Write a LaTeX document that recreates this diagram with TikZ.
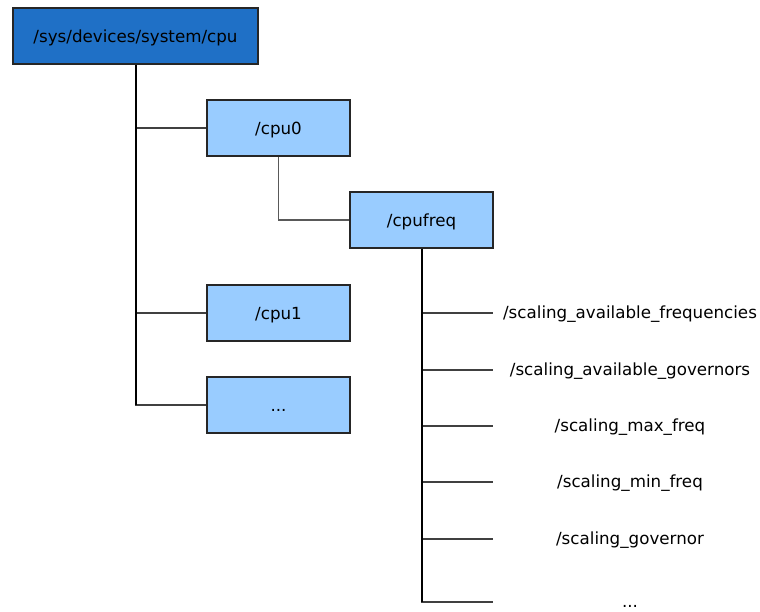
\documentclass[tikz,border=0pt]{standalone}
\usepackage{fontspec}
\setmainfont{DejaVu Sans}
\begin{document}
\begin{tikzpicture}[x=1pt,y=-1pt,
  every node/.style={font=\fontsize{16.7}{20}\selectfont, text=black},
  rootbox/.style={draw=black!85, line width=1.2pt, fill=rootblue, minimum width=245pt, minimum height=56pt, inner sep=0pt, text depth=0pt, text height=13pt},
  dirbox/.style={draw=black!85, line width=1.2pt, fill=dirblue, minimum width=143pt, minimum height=56pt, inner sep=0pt, text depth=0pt, text height=13pt},
  leaf/.style={inner sep=0pt},
  trunk/.style={draw=black, line width=2pt},
  branch/.style={draw=black!75, line width=1.2pt}]
\definecolor{rootblue}{HTML}{1F70C6}
\definecolor{dirblue}{HTML}{99CCFF}
\useasboundingbox (0,0) rectangle (760,612);

% directory boxes
\node[rootbox] (root) at (135.5,36) {/sys/devices/system/cpu};
\node[dirbox] (cpu0) at (278.5,128) {/cpu0};
\node[dirbox] (cpufreq) at (421.5,220) {/cpufreq};
\node[dirbox] (cpu1) at (278.5,313) {/cpu1};
\node[dirbox] (more) at (278.5,405) {...};

% cpufreq entries
\node[leaf] (f1) at (630,314.5) {/scaling\_available\_frequencies};
\node[leaf] (f2) at (630,371.5) {/scaling\_available\_governors};
\node[leaf] (f3) at (630,427.5) {/scaling\_max\_freq};
\node[leaf] (f4) at (630,483.5) {/scaling\_min\_freq};
\node[leaf] (f5) at (630,540.5) {/scaling\_governor};
\node[leaf] (f6) at (630,606) {...};

\coordinate (e1) at (493,313);
\coordinate (e2) at (493,370);
\coordinate (e3) at (493,426);
\coordinate (e4) at (493,482);
\coordinate (e5) at (493,539);
\coordinate (e6) at (493,602);

% tree connectors
\draw[branch] (root.south) |- (cpu0.west);
\draw[branch] (root.south) |- (cpu1.west);
\draw[branch] (root.south) |- (more.west);
\draw[trunk] (root.south) -- (root.south |- more.west);
\draw[branch, draw=black!65] (cpu0.south) |- (cpufreq.west);
\foreach \e in {e1,e2,e3,e4,e5,e6}
  \draw[branch] (cpufreq.south) |- (\e);
\draw[trunk] (cpufreq.south) -- (cpufreq.south |- e6);
\end{tikzpicture}
\end{document}
